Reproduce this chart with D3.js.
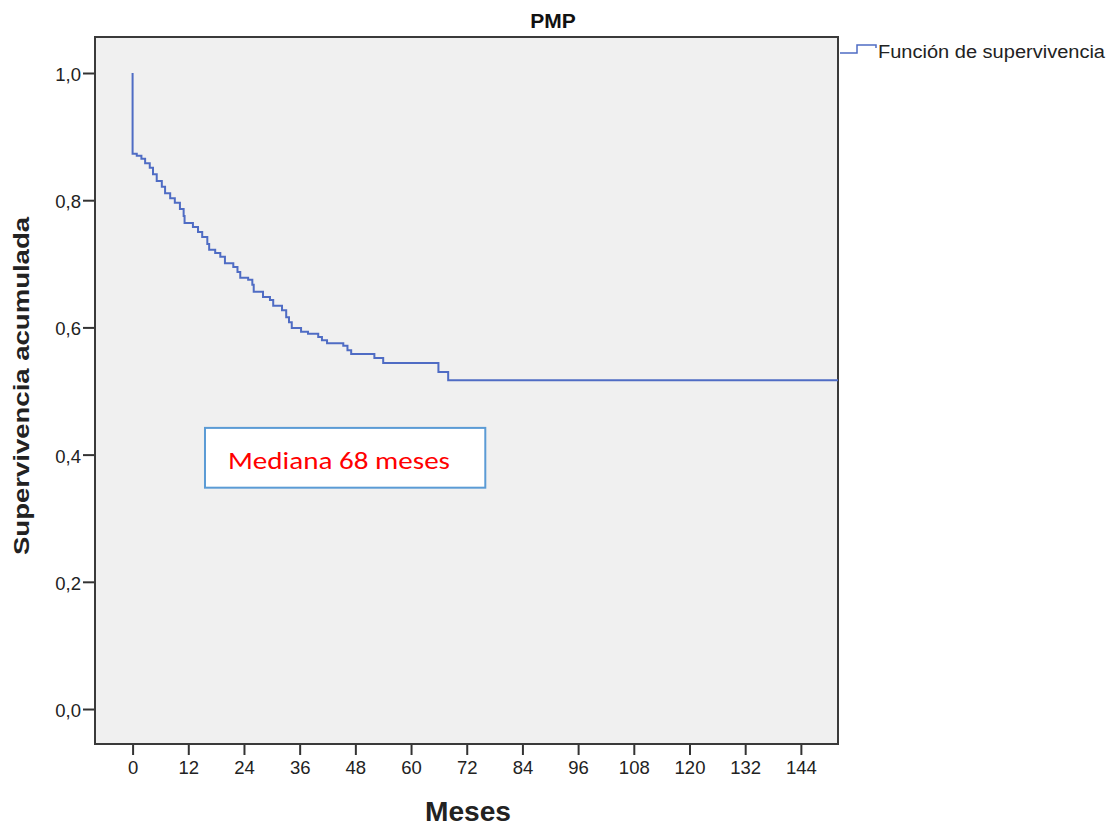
<!DOCTYPE html>
<html>
<head>
<meta charset="utf-8">
<script src="https://cdn.jsdelivr.net/npm/d3@7"></script>
<style>
  body { margin: 0; background: #fff; }
  text { font-family: "Liberation Sans", Arial, sans-serif; }
</style>
</head>
<body>
<div id="chart"></div>
<script>
// Kaplan-Meier steps: month at which survival drops, and the new level.
const stepMonths = [0, 0, 0.9, 1.9, 2.7, 3.7, 4.4, 5.2, 6.3, 7.0, 8.1, 9.1, 10.2, 11.0, 11.2,
  13.0, 14.1, 15.0, 16.1, 16.5, 17.8, 18.9, 19.9, 21.7, 22.6, 23.2, 24.9, 25.8, 26.1,
  28.1, 29.6, 30.3, 32.2, 33.1, 33.7, 34.3, 36.3, 37.8, 40.0, 40.8, 41.9, 45.4, 46.3,
  47.1, 52.1, 54.0, 65.9, 68.0, 152];
const stepSurvival = [1.0, 0.873, 0.870, 0.865, 0.858, 0.851, 0.841, 0.830, 0.821, 0.811, 0.803,
  0.796, 0.786, 0.775, 0.764, 0.758, 0.750, 0.742, 0.731, 0.722, 0.717, 0.711, 0.701,
  0.695, 0.687, 0.678, 0.675, 0.667, 0.656, 0.648, 0.643, 0.634, 0.627, 0.616, 0.608,
  0.599, 0.593, 0.590, 0.585, 0.580, 0.575, 0.571, 0.564, 0.558, 0.552, 0.544, 0.530,
  0.517, 0.517];

const xTicks = [0, 12, 24, 36, 48, 60, 72, 84, 96, 108, 120, 132, 144];
const yTicks = [0, 0.2, 0.4, 0.6, 0.8, 1.0];

const chartTitle = "PMP";
const legendLabel = "Función de supervivencia";
const xTitle = "Meses";
const yTitle = "Supervivencia acumulada";
const noteText = "Mediana 68 meses";

const width = 1115;
const height = 829;
const plot = { left: 95, top: 37, right: 838, bottom: 744 };

const svg = d3.select("#chart").append("svg")
  .attr("width", width)
  .attr("height", height);

const xScale = d3.scaleLinear()
  .domain([-8.1, 152])
  .range([plot.left, plot.right]);

const yScale = d3.scaleLinear()
  .domain([-0.055, 1.0566])
  .range([plot.bottom, plot.top]);

// Plot background
svg.append("rect")
  .attr("x", plot.left)
  .attr("y", plot.top)
  .attr("width", plot.right - plot.left)
  .attr("height", plot.bottom - plot.top)
  .attr("fill", "#f0f0f0");

// Axes
const fmt = (d) => d3.format(".1f")(d).replace(".", ",");

const xAxis = svg.append("g")
  .attr("transform", `translate(0,${plot.bottom})`)
  .call(d3.axisBottom(xScale).tickValues(xTicks).tickSize(11).tickSizeOuter(0));
xAxis.select(".domain").remove();
xAxis.selectAll("line").attr("stroke", "#333").attr("stroke-width", 2);
xAxis.selectAll("text")
  .attr("y", 17)
  .attr("dy", "0.71em")
  .attr("fill", "#222")
  .style("font-size", "18.5px");

const yAxis = svg.append("g")
  .attr("transform", `translate(${plot.left},0)`)
  .call(d3.axisLeft(yScale).tickValues(yTicks).tickFormat(fmt).tickSize(12).tickSizeOuter(0));
yAxis.select(".domain").remove();
yAxis.selectAll("line").attr("stroke", "#333").attr("stroke-width", 2);
yAxis.selectAll("text")
  .attr("x", -14)
  .attr("dy", "0.4em")
  .attr("fill", "#222")
  .style("font-size", "18.5px");

// Frame
svg.append("rect")
  .attr("x", plot.left)
  .attr("y", plot.top)
  .attr("width", plot.right - plot.left)
  .attr("height", plot.bottom - plot.top)
  .attr("fill", "none")
  .attr("stroke", "#3a3a3a")
  .attr("stroke-width", 2);

// Survival curve
const curveData = stepMonths.map((m, i) => ({ m: m, s: stepSurvival[i] }));
const line = d3.line()
  .x((d) => xScale(d.m))
  .y((d) => yScale(d.s))
  .curve(d3.curveStepAfter);

svg.append("path")
  .datum(curveData)
  .attr("d", line)
  .attr("fill", "none")
  .attr("stroke", "#4f6cc4")
  .attr("stroke-width", 2);

// Annotation box
const boxX0 = xScale(15.6), boxX1 = xScale(76.0);
const boxY0 = yScale(0.442), boxY1 = yScale(0.348);
svg.append("rect")
  .attr("x", boxX0)
  .attr("y", boxY0)
  .attr("width", boxX1 - boxX0)
  .attr("height", boxY1 - boxY0)
  .attr("fill", "#fff")
  .attr("stroke", "#5b9bd5")
  .attr("stroke-width", 2);

svg.append("text")
  .attr("x", boxX0 + 23)
  .attr("y", boxY0 + 41)
  .attr("fill", "#ff0000")
  .attr("textLength", 222)
  .attr("lengthAdjust", "spacingAndGlyphs")
  .style("font-family", "Carlito, 'Open Sans', 'Liberation Sans', sans-serif")
  .style("font-size", "25px")
  .text(noteText);

// Title
svg.append("text")
  .attr("x", 553)
  .attr("y", 28)
  .attr("text-anchor", "middle")
  .attr("fill", "#111")
  .style("font-size", "21px")
  .style("font-weight", "bold")
  .text(chartTitle);

// Legend
svg.append("path")
  .attr("d", "M840,53H857V45H876V48")
  .attr("fill", "none")
  .attr("stroke", "#4f6cc4")
  .attr("stroke-width", 1.5);

svg.append("text")
  .attr("x", 878)
  .attr("y", 58)
  .attr("fill", "#222")
  .attr("textLength", 227)
  .attr("lengthAdjust", "spacingAndGlyphs")
  .style("font-size", "18px")
  .text(legendLabel);

// Axis titles
svg.append("text")
  .attr("text-anchor", "middle")
  .attr("transform", `translate(29,386)rotate(-90)`)
  .attr("fill", "#222")
  .attr("textLength", 338)
  .attr("lengthAdjust", "spacingAndGlyphs")
  .style("font-size", "22px")
  .style("font-weight", "bold")
  .text(yTitle);

svg.append("text")
  .attr("x", 468)
  .attr("y", 821)
  .attr("text-anchor", "middle")
  .attr("fill", "#222")
  .attr("textLength", 86)
  .attr("lengthAdjust", "spacingAndGlyphs")
  .style("font-size", "27px")
  .style("font-weight", "bold")
  .text(xTitle);
</script>
</body>
</html>
